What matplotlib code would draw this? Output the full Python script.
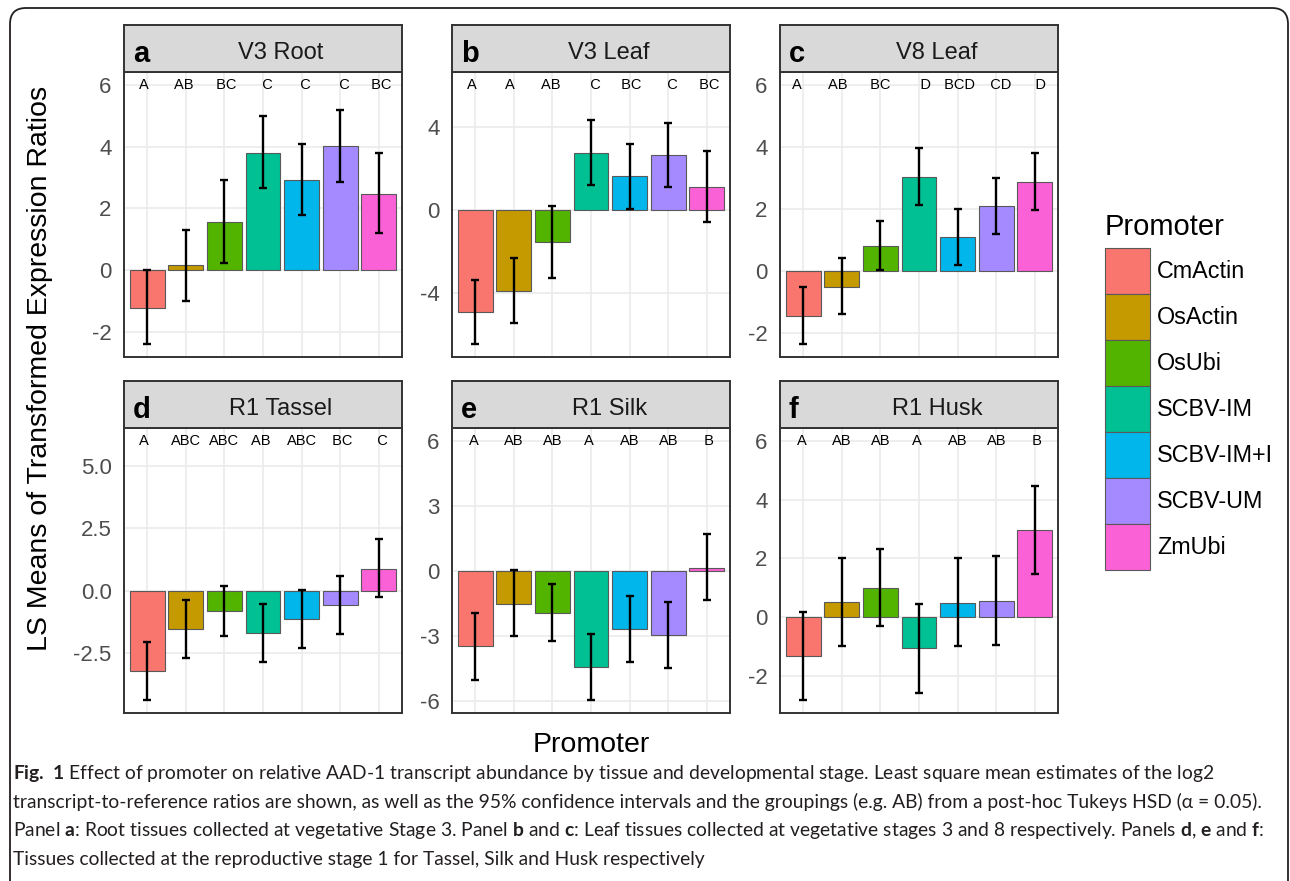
import numpy as np
import matplotlib
matplotlib.use("Agg")
import matplotlib.pyplot as plt
from matplotlib.patches import Patch, FancyBboxPatch

plt.rcParams["font.family"] = ["Liberation Sans", "DejaVu Sans"]
plt.rcParams["axes.unicode_minus"] = False
plt.rcParams["mathtext.fontset"] = "custom"
plt.rcParams["mathtext.rm"] = "Lato"
plt.rcParams["mathtext.bf"] = "Lato:bold"

promoters = ["CmActin", "OsActin", "OsUbi", "SCBV-IM", "SCBV-IM+I", "SCBV-UM", "ZmUbi"]
colors = ["#F8766D", "#C49A00", "#53B400", "#00C094", "#00B6EB", "#A58AFF", "#FB61D7"]

panel_letters = ["a", "b", "c", "d", "e", "f"]
tissues = ["V3 Root", "V3 Leaf", "V8 Leaf", "R1 Tassel", "R1 Silk", "R1 Husk"]

# LS means with lower / upper 95% CI
mean_a = [-1.22, 0.15, 1.56, 3.80, 2.91, 4.02, 2.48]
lower_a = [-2.40, -1.00, 0.24, 2.67, 1.78, 2.86, 1.21]
upper_a = [0.00, 1.29, 2.92, 4.99, 4.08, 5.19, 3.80]

mean_b = [-4.95, -3.92, -1.56, 2.71, 1.61, 2.63, 1.08]
lower_b = [-6.47, -5.46, -3.28, 1.20, 0.05, 1.08, -0.61]
upper_b = [-3.37, -2.35, 0.19, 4.29, 3.18, 4.19, 2.83]

mean_c = [-1.44, -0.49, 0.82, 3.03, 1.09, 2.10, 2.87]
lower_c = [-2.34, -1.37, 0.04, 2.15, 0.19, 1.21, 1.98]
upper_c = [-0.51, 0.44, 1.63, 3.97, 2.00, 3.01, 3.80]

mean_d = [-3.22, -1.55, -0.83, -1.71, -1.14, -0.59, 0.88]
lower_d = [-4.39, -2.71, -1.83, -2.87, -2.30, -1.74, -0.27]
upper_d = [-2.07, -0.37, 0.19, -0.55, 0.03, 0.59, 2.06]

mean_e = [-3.49, -1.52, -1.95, -4.43, -2.68, -2.98, 0.12]
lower_e = [-5.05, -3.03, -3.23, -5.97, -4.20, -4.48, -1.34]
upper_e = [-1.97, 0.03, -0.60, -2.91, -1.14, -1.43, 1.71]

mean_f = [-1.32, 0.52, 0.99, -1.06, 0.50, 0.54, 2.96]
lower_f = [-2.82, -0.97, -0.31, -2.58, -0.99, -0.94, 1.47]
upper_f = [0.19, 2.03, 2.32, 0.45, 2.00, 2.07, 4.46]

# Tukey HSD groupings (cld style, space padded)
groups_a = ["A  ", "AB ", " BC", "  C", "  C", "  C", " BC"]
groups_b = ["A  ", "A  ", "AB ", "  C", " BC", "  C", " BC"]
groups_c = ["A   ", "AB  ", " BC ", "   D", " BCD", "  CD", "   D"]
groups_d = ["A  ", "ABC", "ABC", "AB ", "ABC", " BC", "  C"]
groups_e = ["A ", "AB", "AB", "A ", "AB", "AB", " B"]
groups_f = ["A ", "AB", "AB", "A ", "AB", "AB", " B"]

yticks_a = [-2, 0, 2, 4, 6]
yticks_b = [-4, 0, 4]
yticks_c = [-2, 0, 2, 4, 6]
yticks_d = [-2.5, 0.0, 2.5, 5.0]
yticks_e = [-6, -3, 0, 3, 6]
yticks_f = [-2, 0, 2, 4, 6]
ytick_fmt = ["%g", "%g", "%g", "%.1f", "%g", "%g"]

means = [mean_a, mean_b, mean_c, mean_d, mean_e, mean_f]
lowers = [lower_a, lower_b, lower_c, lower_d, lower_e, lower_f]
uppers = [upper_a, upper_b, upper_c, upper_d, upper_e, upper_f]
groups = [groups_a, groups_b, groups_c, groups_d, groups_e, groups_f]
yticks = [yticks_a, yticks_b, yticks_c, yticks_d, yticks_e, yticks_f]
label_y = 6

W, H = 1290, 881
fig = plt.figure(figsize=(W / 100, H / 100), dpi=100)


def box(x, y, w, h):
    return [x / W, 1 - (y + h) / H, w / W, h / H]


# rounded outer frame
frame = FancyBboxPatch((0.10, -0.3), 12.78, 9.03,
                       boxstyle="round,pad=0,rounding_size=0.16",
                       transform=fig.dpi_scale_trans, facecolor="none",
                       edgecolor="#231F20", linewidth=1.3)
fig.patches.append(frame)

col_x = [124, 452, 780]
row_y = [72, 428]
pw, ph, sh = 278, 285, 47

for i in range(6):
    r, c = divmod(i, 3)
    m = np.array(means[i])
    lo = np.array(lowers[i])
    hi = np.array(uppers[i])
    x = np.arange(len(promoters))

    ax = fig.add_axes(box(col_x[c], row_y[r], pw, ph))
    ax.bar(x, m, width=0.9, color=colors, edgecolor="#595959", linewidth=0.8, zorder=2)
    ax.errorbar(x, m, yerr=[m - lo, hi - m], fmt="none", ecolor="black",
                elinewidth=1.7, capsize=2.8, capthick=1.7, zorder=3)
    for xi, g in zip(x, groups[i]):
        ax.text(xi, label_y, g, ha="center", va="center", fontsize=10.5, zorder=4)

    ymin = min(0, lo.min())
    ymax = max(label_y, hi.max())
    pad = 0.05 * (ymax - ymin)
    ax.set_ylim(ymin - pad, ymax + pad)
    ax.set_xlim(-0.6, len(promoters) - 0.4)
    ax.set_xticks(x)
    ax.set_xticklabels([])
    ax.set_yticks(yticks[i])
    ax.set_yticklabels([ytick_fmt[i] % t for t in yticks[i]])
    ax.tick_params(length=0, labelsize=16, labelcolor="#4D4D4D", pad=9)
    ax.grid(True, color="#EBEBEB", linewidth=1.2)
    ax.set_axisbelow(True)
    for s in ax.spines.values():
        s.set_color("#333333")
        s.set_linewidth(1.4)

    sax = fig.add_axes(box(col_x[c], row_y[r] - sh, pw, sh))
    sax.set_facecolor("#D9D9D9")
    sax.set_xticks([])
    sax.set_yticks([])
    for s in sax.spines.values():
        s.set_color("#333333")
        s.set_linewidth(1.4)
    sax.text(0.565, 0.28, tissues[i], ha="center", va="baseline",
             fontsize=17, color="#1A1A1A", transform=sax.transAxes)
    sax.text(0.032, 0.21, panel_letters[i], ha="left", va="baseline",
             fontsize=21, fontweight="bold", color="black", transform=sax.transAxes)

fig.text(40 / W, 1 - 368 / H, "LS Means of Transformed Expression Ratios",
         rotation=90, ha="center", va="center", fontsize=20.5)
fig.text(591 / W, 1 - 745 / H, "Promoter", ha="center", va="center", fontsize=20.5)

# legend: title as separate text, keys stacked below
fig.text(1105 / W, 1 - 235 / H, "Promoter", ha="left", va="baseline", fontsize=21)
handles = [Patch(facecolor=col, edgecolor="#595959", linewidth=0.8) for col in colors]
fig.legend(handles, promoters, loc="upper left",
           bbox_to_anchor=(1105 / W, 1 - 248 / H), frameon=False,
           fontsize=16.8, handlelength=1.93, handleheight=2.66,
           labelspacing=0, handletextpad=0.3, borderpad=0, borderaxespad=0)

caption = [
    r"$\mathbf{Fig.\;1}$ Effect of promoter on relative AAD-1 transcript abundance by tissue and developmental stage. Least square mean estimates of the log2",
    "transcript-to-reference ratios are shown, as well as the 95% confidence intervals and the groupings (e.g. AB) from a post-hoc Tukeys HSD (α = 0.05).",
    r"Panel $\mathbf{a}$: Root tissues collected at vegetative Stage 3. Panel $\mathbf{b}$ and $\mathbf{c}$: Leaf tissues collected at vegetative stages 3 and 8 respectively. Panels $\mathbf{d}$, $\mathbf{e}$ and $\mathbf{f}$:",
    "Tissues collected at the reproductive stage 1 for Tassel, Silk and Husk respectively",
]
line_targets = [1260, 1250, 1256]
cap_texts = []
for k, line in enumerate(caption):
    t = fig.text(13 / W, 1 - (779 + 28.7 * k) / H, line, ha="left", va="baseline",
                 fontsize=13, family="Lato", color="#231F20")
    cap_texts.append(t)

# fit caption size to the line widths of the reference
fig.canvas.draw()
rend = fig.canvas.get_renderer()
scale = min(tw / t.get_window_extent(rend).width
            for tw, t in zip(line_targets, cap_texts))
for t in cap_texts:
    t.set_fontsize(13 * scale)

fig.savefig("out.png", dpi=100)
